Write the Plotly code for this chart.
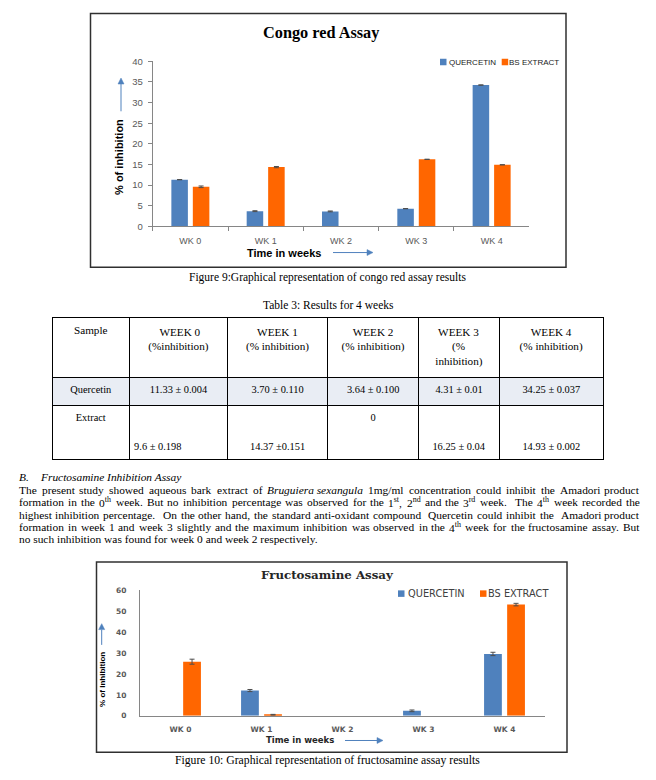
import re
import plotly.graph_objects as go

# The page body has an 8px margin, so the figure is 8px smaller and coordinates
# (measured on the 656x780 page) are shifted by 8px.
OFF = 8
W, H = 656 - OFF, 780 - OFF


def px(x):
    return (x - OFF) / W


def py(y):
    return 1 - (y - OFF) / H


# ---------------- data ----------------
weeks = ["WK 0", "WK 1", "WK 2", "WK 3", "WK 4"]
series_names = ["QUERCETIN", "BS EXTRACT"]
series_colors = ["#4f81bd", "#ff6600"]

congo_quercetin = [11.33, 3.70, 3.64, 4.31, 34.25]
congo_quercetin_err = [0.004, 0.110, 0.100, 0.01, 0.037]
congo_extract = [9.6, 14.37, 0, 16.25, 14.93]
congo_extract_err = [0.198, 0.151, 0, 0.04, 0.002]
congo_yticks = [0, 5, 10, 15, 20, 25, 30, 35, 40]

fructo_quercetin = [0, 12.1, 0, 2.4, 29.6]
fructo_quercetin_err = [0, 0.5, 0, 0.4, 0.8]
fructo_extract = [25.9, 0.5, 0, 0, 53.2]
fructo_extract_err = [1.2, 0.2, 0, 0, 0.6]
fructo_yticks = [0, 10, 20, 30, 40, 50, 60]

table_header = ["Sample", "WEEK 0<br>(%inhibition)", "WEEK 1<br>(% inhibition)",
                "WEEK 2<br>(% inhibition)", "WEEK 3<br>(%<br>inhibition)",
                "WEEK 4<br>(% inhibition)"]
table_rows = ["Quercetin", "Extract"]
quercetin_cells = ["11.33 ± 0.004", "3.70 ± 0.110", "3.64 ± 0.100", "4.31 ± 0.01", "34.25 ± 0.037"]
extract_cells = ["9.6 ± 0.198", "14.37 ±0.151", "0", "16.25 ± 0.04", "14.93 ± 0.002"]

paragraph_lines = [
    "The present study showed aqueous bark extract of <i>Bruguiera\u00a0sexangula</i> 1mg/ml concentration could inhibit the Amadori product",
    "formation in the 0<sup>th</sup> week. But no inhibition percentage was observed for the 1<sup>st</sup>, 2<sup>nd</sup> and the 3<sup>rd</sup> week.  The 4<sup>th</sup> week recorded the",
    "highest inhibition percentage.  On the other hand, the standard anti-oxidant compound  Quercetin could inhibit the  Amadori product",
    "formation in week 1 and week 3 slightly and the maximum inhibition was observed in the 4<sup>th</sup> week for the fructosamine assay. But",
    "no such inhibition was found for week 0 and week 2 respectively.",
]

# Times / Liberation Serif advance widths (1/1000 em), used to centre and justify text
_REG = {' ': 250, '\u00a0': 250, '.': 250, ',': 250, '/': 278, '-': 333, ':': 278, '(': 333,
        ')': 333, '%': 833, '±': 564}
for ch in "0123456789":
    _REG[ch] = 500
_REG.update(dict(zip("abcdefghijklmnopqrstuvwxyz",
                     [444, 500, 444, 500, 444, 333, 500, 500, 278, 278, 500, 278, 778, 500, 500,
                      500, 500, 333, 389, 278, 500, 500, 722, 500, 500, 444])))
_REG.update(dict(zip("ABCDEFGHIJKLMNOPQRSTUVWXYZ",
                     [722, 667, 667, 722, 611, 556, 722, 722, 333, 389, 722, 611, 889, 722, 722,
                      556, 722, 667, 556, 611, 722, 722, 944, 722, 722, 611])))
_ITA = dict(_REG)
_ITA.update(dict(zip("abcdefghijklmnopqrstuvwxyz",
                     [500, 500, 444, 500, 444, 278, 500, 500, 278, 278, 444, 278, 722, 500, 500,
                      500, 500, 389, 389, 278, 500, 444, 667, 444, 444, 389])))
_ITA.update({'B': 611, 'F': 611, 'S': 500})


def word_width(s, size):
    w = 0.0
    ital = False
    sup = False
    for tok in re.split(r"(<[^>]+>)", s):
        if tok == "<i>":
            ital = True
        elif tok == "</i>":
            ital = False
        elif tok == "<sup>":
            sup = True
        elif tok == "</sup>":
            sup = False
        elif tok:
            tbl = _ITA if ital else _REG
            f = 0.7 if sup else 1.0
            for ch in tok:
                w += tbl.get(ch, 500) * f
    return w * size / 1000.0


NB = "\u00a0"


def center_lines(s, size):
    """Plotly table lines are left-aligned inside a centred block: pad short lines."""
    lines = s.split("<br>")
    ws = [word_width(l, size) for l in lines]
    wmax = max(ws)
    nbw = word_width(NB, size)
    out = [NB * int(round((wmax - w) / 2 / nbw)) + l for l, w in zip(lines, ws)]
    return "<br>".join(out)


# ---------------- figure ----------------
fig = go.Figure()

err_color = "#4d4d4d"


def shown(vals):
    # a zero-height bar draws nothing; leaving it out also avoids a stray error cap
    return [v if v else None for v in vals]


congo_vals = [congo_quercetin, congo_extract]
congo_errs = [congo_quercetin_err, congo_extract_err]
for i in range(2):
    fig.add_trace(go.Bar(
        x=weeks, y=shown(congo_vals[i]), name=series_names[i], showlegend=False,
        marker=dict(color=series_colors[i], line=dict(width=0)),
        error_y=dict(type="data", array=congo_errs[i], color=err_color, thickness=1, width=2.5),
        xaxis="x", yaxis="y",
    ))

fructo_vals = [fructo_quercetin, fructo_extract]
fructo_errs = [fructo_quercetin_err, fructo_extract_err]
for i in range(2):
    fig.add_trace(go.Bar(
        x=weeks, y=shown(fructo_vals[i]), name=series_names[i], showlegend=False,
        marker=dict(color=series_colors[i], line=dict(width=0)),
        error_y=dict(type="data", array=fructo_errs[i], color=err_color, thickness=1, width=2.5),
        xaxis="x2", yaxis="y2",
    ))

# table
HF, CF = 11.2, 10.4
cell_cols = [[table_rows[0], table_rows[1]]]
for k, (q, e) in enumerate(zip(quercetin_cells, extract_cells)):
    if e == "0":
        e_txt = e
    elif k == 0:
        e_txt = NB + "<br>" + NB + "<br>" + e + NB * 16
    else:
        e_txt = NB + "<br>" + NB + "<br>" + e
    cell_cols.append([q, e_txt])
row_fill = ["#e9edf4", "white"]
fills = [row_fill] * 6

serif = "Liberation Serif"
fig.add_trace(go.Table(
    domain=dict(x=[px(52), px(603)], y=[py(480), py(316)]),
    columnwidth=[77.5, 98, 100.2, 90.9, 80.9, 103.5],
    header=dict(values=[center_lines(h, HF) for h in table_header], height=60, align="center",
                font=dict(family=serif, size=HF, color="black"),
                fill=dict(color="white"), line=dict(color="black", width=1)),
    cells=dict(values=cell_cols, height=28, align="center",
               font=dict(family=serif, size=CF, color="black"),
               fill=dict(color=fills), line=dict(color="black", width=1)),
))

axis_gray = "#868686"
label_gray = "#595959"

fig.update_layout(
    width=W, height=H,
    margin=dict(l=0, r=0, t=0, b=0),
    paper_bgcolor="white", plot_bgcolor="white",
    barmode="group", bargap=0.43, bargroupgap=0.23,
    showlegend=False,
    xaxis=dict(domain=[px(152.7), px(529.3)], anchor="y", showline=True, linecolor=axis_gray,
               linewidth=1, ticks="outside", tickson="boundaries", ticklen=4, tickcolor=axis_gray,
               tickfont=dict(family="Liberation Sans", size=9, color=label_gray),
               ticklabelstandoff=6, showgrid=False, zeroline=False),
    yaxis=dict(domain=[py(223.5), py(56)], anchor="x", range=[0, 40], tickvals=congo_yticks,
               showline=True, linecolor=axis_gray, linewidth=1, ticks="outside", ticklen=4,
               tickcolor=axis_gray, tickfont=dict(family="Liberation Sans", size=9.5, color=label_gray),
               ticklabelstandoff=3, showgrid=False, zeroline=False),
    xaxis2=dict(domain=[px(140), px(545)], anchor="y2", showline=True, linecolor=axis_gray,
                linewidth=1, ticks="", tickfont=dict(family="DejaVu Sans", size=7.5, color=label_gray,
                                                   weight="bold"),
                ticklabelstandoff=6, showgrid=False, zeroline=False),
    yaxis2=dict(domain=[py(720), py(592.7)], anchor="x2", range=[0, 60], tickvals=fructo_yticks,
                showline=True, linecolor=axis_gray, linewidth=1, ticks="",
                tickfont=dict(family="DejaVu Sans", size=7.5, color=label_gray, weight="bold"),
                ticklabelstandoff=11, showgrid=False, zeroline=False),
)

shapes = []
box_line = dict(color="#303030", width=1.5)
shapes.append(dict(type="rect", xref="paper", yref="paper", x0=px(90.5), x1=px(566),
                   y0=py(265), y1=py(7.5), line=box_line, layer="below"))
shapes.append(dict(type="rect", xref="paper", yref="paper", x0=px(96.5), x1=px(567),
                   y0=py(757), y1=py(564), line=box_line, layer="below"))

# legend squares
leg1 = [(440, 56.7), (501.7, 56.7)]
leg2 = [(398, 596), (480, 596)]
for (lx, ly), c in list(zip(leg1, series_colors)) + list(zip(leg2, series_colors)):
    shapes.append(dict(type="rect", xref="paper", yref="paper", x0=px(lx), x1=px(lx + 6.5),
                       y0=py(ly + 3.3), y1=py(ly - 3.3), fillcolor=c, line=dict(width=0)))


def arrow(x0, y0, x1, y1, color="#4f81bd"):
    """Straight arrow from (x0,y0) to tip (x1,y1) in page pixels."""
    dx, dy = x1 - x0, y1 - y0
    L = (dx * dx + dy * dy) ** 0.5
    ux, uy = dx / L, dy / L
    head, half = 6.0, 3.0
    bx, by = x1 - ux * head, y1 - uy * head
    shapes.append(dict(type="line", xref="paper", yref="paper", x0=px(x0), y0=py(y0),
                       x1=px(bx), y1=py(by), line=dict(color=color, width=1)))
    p1 = (bx - uy * half, by + ux * half)
    p2 = (bx + uy * half, by - ux * half)
    path = "M {} {} L {} {} L {} {} Z".format(px(x1), py(y1), px(p1[0]), py(p1[1]),
                                              px(p2[0]), py(p2[1]))
    shapes.append(dict(type="path", xref="paper", yref="paper", path=path, fillcolor=color,
                       line=dict(color=color, width=0.5)))


ann = []


def text(x, y, s, family, size, color="black", xanchor="center", weight="normal", angle=0):
    ann.append(dict(x=px(x), y=py(y), xref="paper", yref="paper", text=s, showarrow=False,
                    xanchor=xanchor, yanchor="middle", textangle=angle, borderpad=0,
                    borderwidth=0,
                    font=dict(family=family, size=size, color=color, weight=weight)))


def justified(y, s, x0, x1, family, size):
    toks = s.split(" ")
    widths = [word_width(t, size) for t in toks]
    ngap = len(toks) - 1
    gap = (x1 - x0 - sum(widths)) / ngap
    x = x0
    for k, (t, w) in enumerate(zip(toks, widths)):
        if t:
            if k == len(toks) - 1:
                text(x1, y, t, family, size, xanchor="right")
            else:
                text(x, y, t, family, size, xanchor="left")
        x += w + gap


# chart 1 texts
text(320.5, 26.7, "Congo red Assay", serif, 16.3, weight="bold")
text(448.5, 56.7, series_names[0], "Liberation Sans", 8, color="#1a1a1a", xanchor="left")
text(509.3, 56.7, series_names[1], "Liberation Sans", 8, color="#1a1a1a", xanchor="left")
text(284, 250.5, "Time in weeks", "Liberation Sans", 11, weight="bold")
text(119.5, 152.5, "% of inhibition", "Liberation Sans", 11, weight="bold", angle=-90)
arrow(333, 250, 373, 250)
arrow(121, 106.7, 121, 73)

# captions
text(327.5, 275.5, "Figure 9:Graphical representation of congo red assay results", serif, 11.5)
text(328, 303, "Table 3: Results for 4 weeks", serif, 11.5)

# paragraph
PF = 11.4
text(18.8, 478, "<i>B.</i>", serif, PF, xanchor="left")
text(40, 478, "<i>Fructosamine Inhibition Assay</i>", serif, PF, xanchor="left")
para_y = [491, 503.5, 516, 528.5, 541]
for k, (yy, line) in enumerate(zip(para_y, paragraph_lines)):
    if k < len(paragraph_lines) - 1:
        justified(yy, line, 18.8, 640, serif, PF)
    else:
        text(18.8, yy, line, serif, PF, xanchor="left")

# chart 2 texts
text(327, 577.5, "Fructosamine Assay", "DejaVu Serif", 11.8, color="#262626", weight="bold")
text(408, 596, series_names[0], "DejaVu Sans", 9.8, color="#404040", xanchor="left")
text(488, 596, series_names[1], "DejaVu Sans", 9.8, color="#404040", xanchor="left")
text(299.5, 744.5, "Time in weeks", "DejaVu Sans", 8.5, color="#262626", weight="bold")
text(103, 683.5, "% of Inhibition", "Liberation Sans", 8, weight="bold", angle=-90)
arrow(345, 745, 383, 745)
arrow(101.7, 648, 101.7, 626.5)

text(327.5, 765, "Figure 10: Graphical representation of fructosamine assay results", serif, 11.7)

fig.update_layout(shapes=shapes, annotations=ann)

fig.write_html("out.html")
